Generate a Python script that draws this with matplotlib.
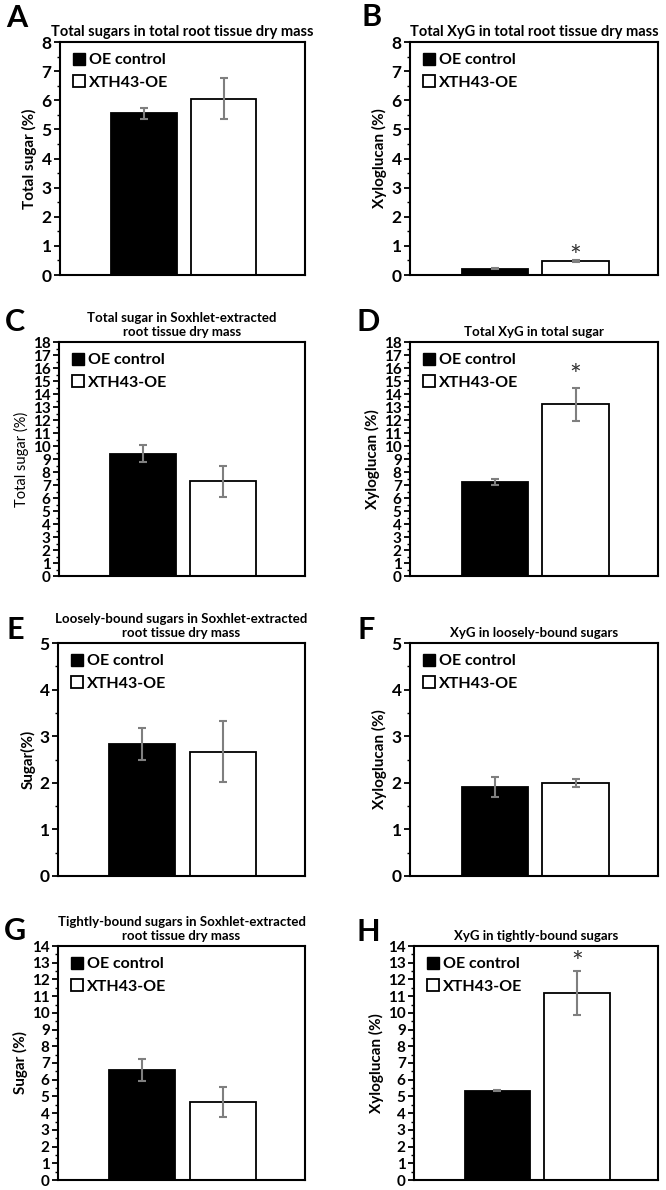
import matplotlib
matplotlib.use('Agg')
import matplotlib.pyplot as plt
from matplotlib.lines import Line2D
from matplotlib.ticker import MultipleLocator

plt.rcParams['font.family'] = ['Lato', 'DejaVu Sans']

# data
groups = ['OE control', 'XTH43-OE']
panel_letters = ['A', 'B', 'C', 'D', 'E', 'F', 'G', 'H']
titles = [
    'Total sugars in total root tissue dry mass',
    'Total XyG in total root tissue dry mass',
    'Total sugar in Soxhlet-extracted\nroot tissue dry mass',
    'Total XyG in total sugar',
    'Loosely-bound sugars in Soxhlet-extracted\nroot tissue dry mass',
    'XyG in loosely-bound sugars',
    'Tightly-bound sugars in Soxhlet-extracted\nroot tissue dry mass',
    'XyG in tightly-bound sugars',
]
ylabels = ['Total sugar (%)', 'Xyloglucan (%)', 'Total sugar (%)', 'Xyloglucan (%)',
           'Sugar(%)', 'Xyloglucan (%)', 'Sugar (%)', 'Xyloglucan (%)']
ymax = [8, 8, 18, 18, 5, 5, 14, 14]
control_mean = [5.55, 0.22, 9.4, 7.25, 2.83, 1.91, 6.6, 5.35]
control_err = [0.2, 0.01, 0.65, 0.25, 0.35, 0.22, 0.65, 0.05]
oe_mean = [6.05, 0.48, 7.3, 13.2, 2.67, 2.0, 4.65, 11.2]
oe_err = [0.7, 0.03, 1.2, 1.25, 0.65, 0.08, 0.9, 1.3]
star_y = [None, 0.6, None, 15.3, None, None, None, 12.9]

W, H = 666, 1190
fig = plt.figure(figsize=(W / 100, H / 100), dpi=100)

# axes boxes in pixels: x0, y0(top), x1, y1(bottom)
boxes = [
    (60, 42, 305, 275), (410, 42, 658, 275),
    (59, 342, 305, 576), (410, 342, 658, 576),
    (58, 643, 305, 876), (410, 643, 658, 876),
    (58, 946, 305, 1180), (414, 946, 658, 1180),
]
letter_pos = [(17, 18), (372, 17), (15, 322), (368, 322),
              (15, 630), (366, 630), (15, 931), (368, 932)]

for i in range(8):
    x0, y0, x1, y1 = boxes[i]
    ax = fig.add_axes([x0 / W, 1 - y1 / H, (x1 - x0) / W, (y1 - y0) / H])
    ax.bar([0, 1], [control_mean[i], oe_mean[i]], width=0.82,
           color=['black', 'white'], edgecolor='black', linewidth=1.3, zorder=2)
    ax.errorbar([0, 1], [control_mean[i], oe_mean[i]],
                yerr=[control_err[i], oe_err[i]], fmt='none', ecolor='#7f7f7f',
                elinewidth=1.5, capsize=3, capthick=1.5, zorder=3)
    if star_y[i] is not None:
        ax.text(1, star_y[i], '*', ha='center', va='center', fontsize=20,
                color='#333333')
    ax.set_xlim(-1.05, 2.02)
    ax.set_ylim(0, ymax[i])
    ax.set_xticks([])
    ax.yaxis.set_major_locator(MultipleLocator(1))
    ax.yaxis.set_minor_locator(MultipleLocator(0.5))
    small = ymax[i] > 10
    ax.tick_params(axis='y', which='major', length=4, width=1.3,
                   labelsize=11 if small else 12.5, pad=2)
    ax.tick_params(axis='y', which='minor', length=2.5, width=1)
    for lab in ax.get_yticklabels():
        lab.set_fontweight('bold')
    for sp in ax.spines.values():
        sp.set_linewidth(1.5)
    ax.set_ylabel(ylabels[i], fontsize=11 if i != 2 else 10.5,
                  fontweight='bold' if i != 2 else 'normal', labelpad=3)
    tsize = 10.5 if i < 2 else 9.5
    ax.set_title(titles[i], fontsize=tsize, fontweight='bold', pad=4,
                 linespacing=1.2)
    handles = [
        Line2D([], [], marker='s', linestyle='none', markersize=9,
               markerfacecolor='black', markeredgecolor='black'),
        Line2D([], [], marker='s', linestyle='none', markersize=9,
               markerfacecolor='white', markeredgecolor='black',
               markeredgewidth=1.3),
    ]
    leg = ax.legend(handles, groups, loc='upper left', frameon=False,
                    handletextpad=0.1, handlelength=1.0, borderaxespad=0.3,
                    labelspacing=0.5, prop={'size': 11.5, 'weight': 'bold'})
    lx, ly = letter_pos[i]
    fig.text(lx / W, 1 - ly / H, panel_letters[i], fontsize=22,
             fontweight='bold', ha='center', va='center')

fig.savefig('out.png', dpi=100)
